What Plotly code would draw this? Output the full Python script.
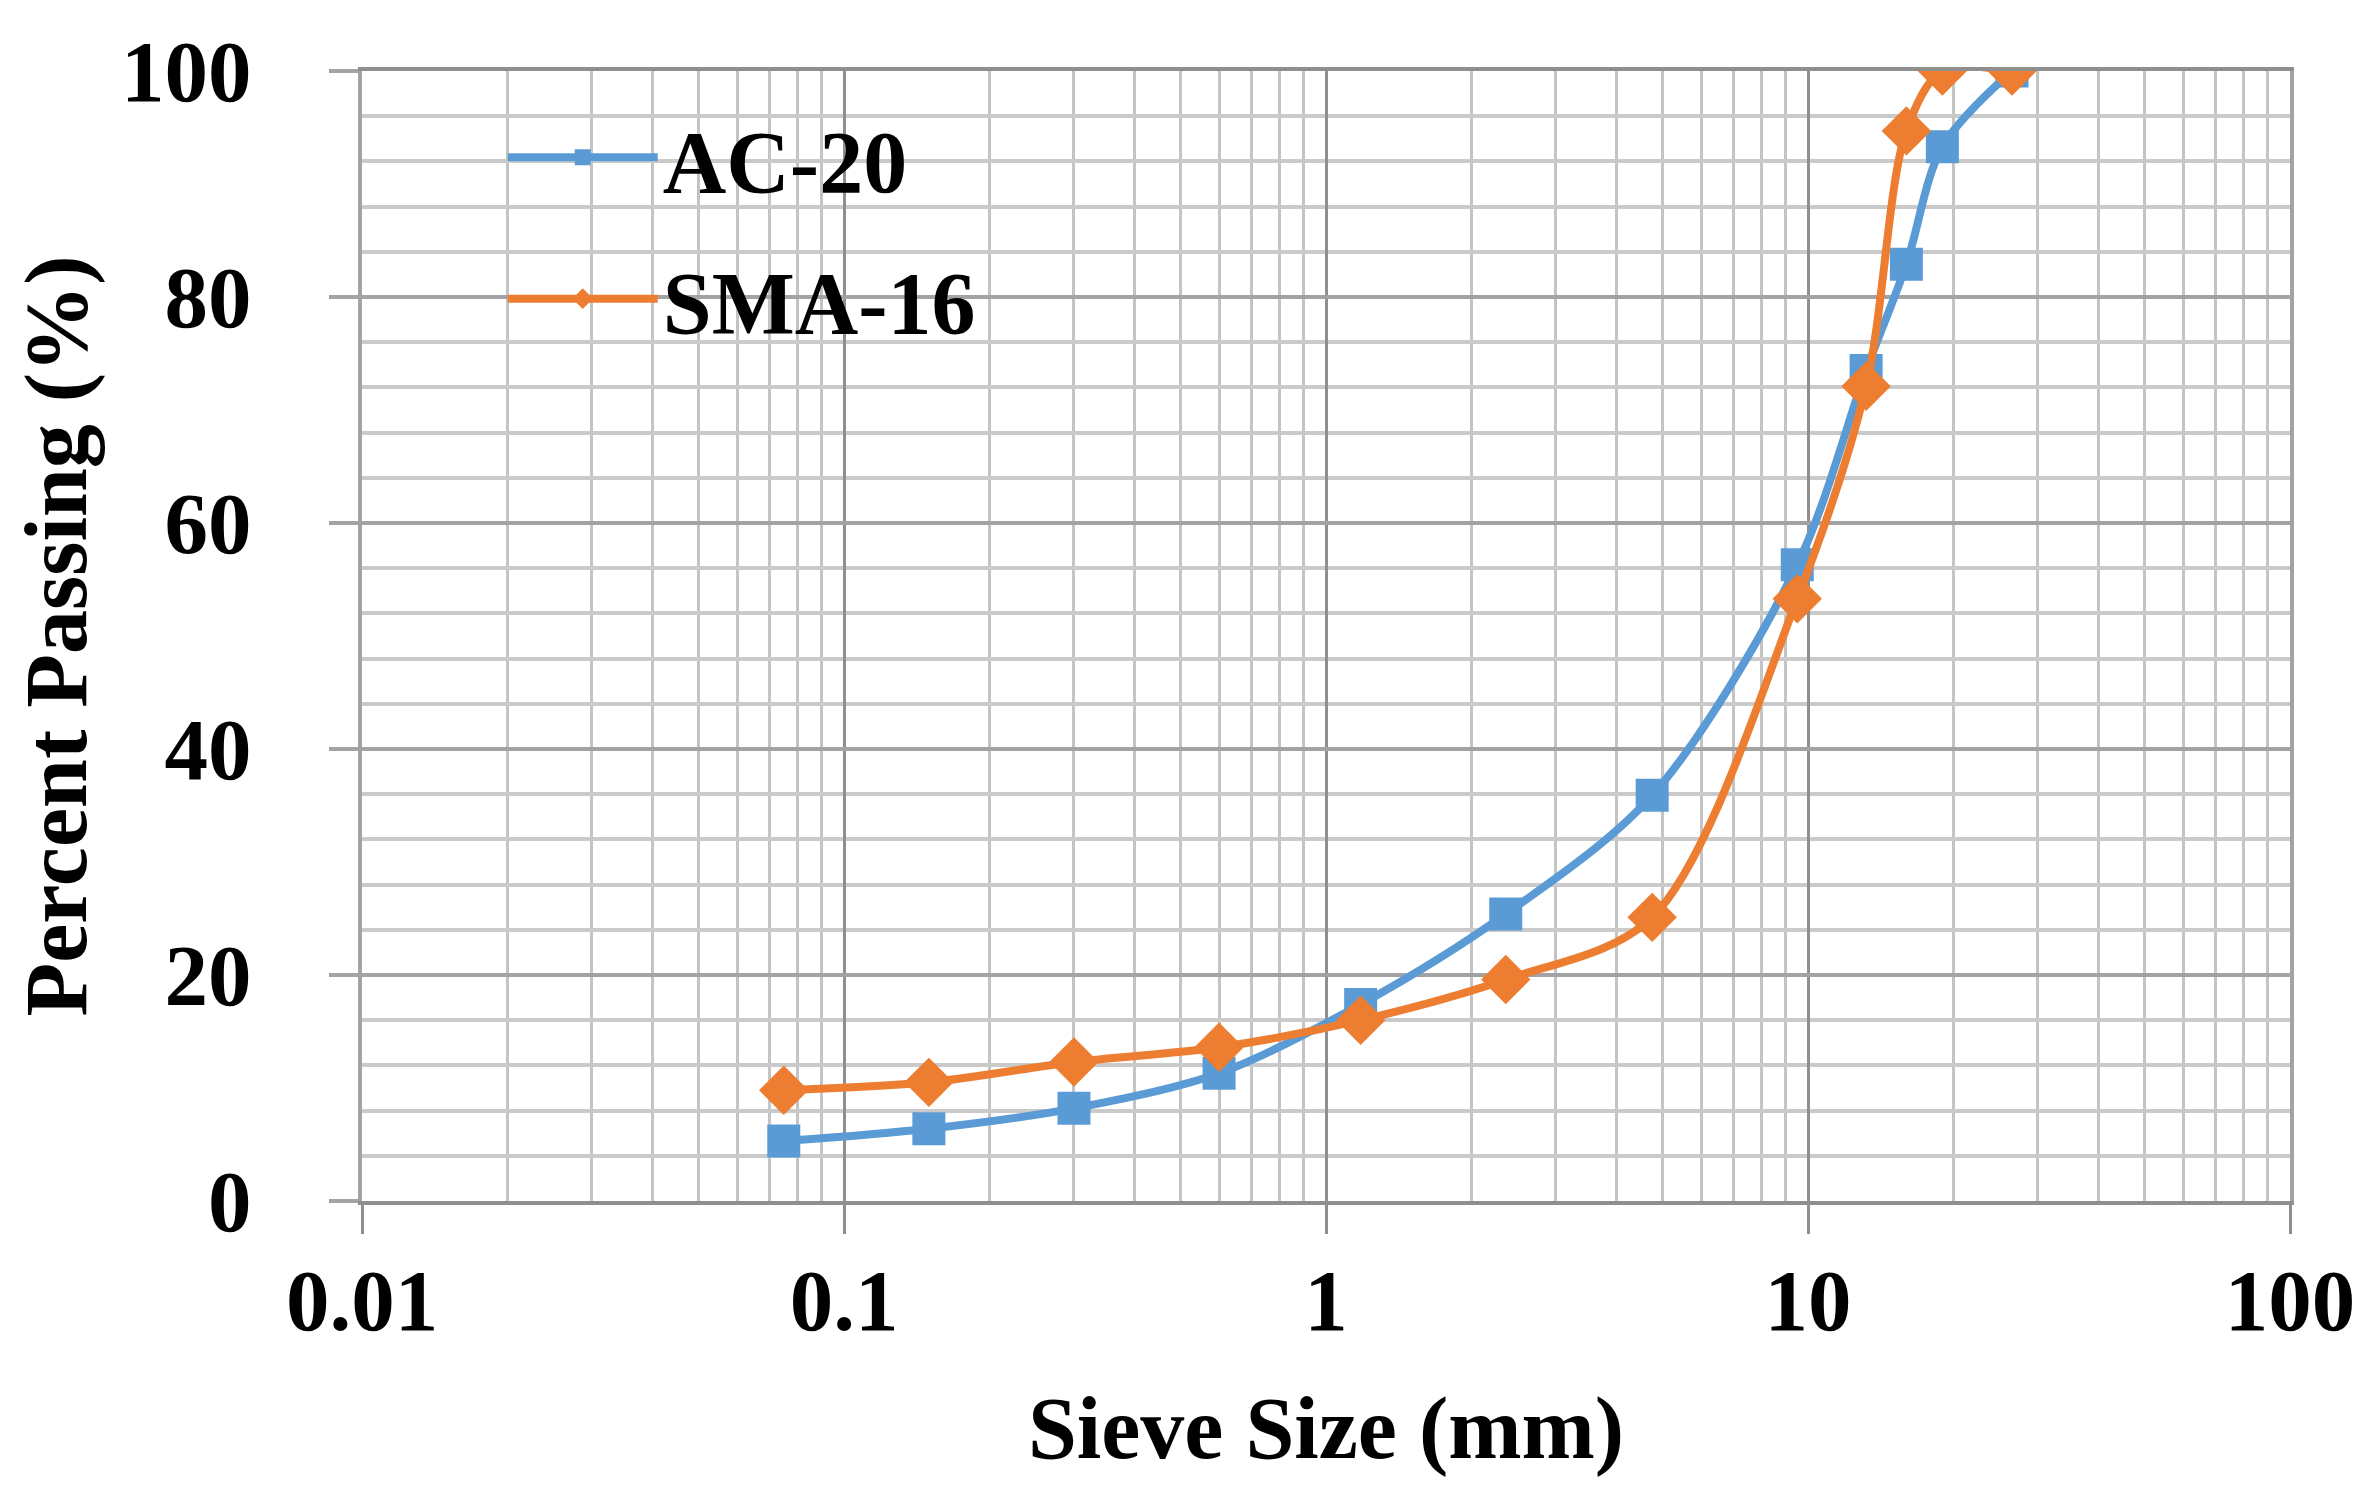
import plotly.graph_objects as go

# sieve sizes (mm) and percent passing
sieve = [0.075, 0.15, 0.3, 0.6, 1.18, 2.36, 4.75, 9.5, 13.2, 16, 19, 26.5]
ac20 = [5.3, 6.4, 8.2, 11.3, 17.4, 25.4, 35.9, 56.3, 73.5, 82.9, 93.3, 100]
sma16 = [9.8, 10.5, 12.3, 13.6, 16.0, 19.6, 25.1, 53.3, 72.1, 94.7, 100, 100]

xticks = [0.01, 0.1, 1, 10, 100]
xticktext = ["0.01", "0.1", "1", "10", "100"]
yticks = [0, 20, 40, 60, 80, 100]

blue = "#5B9BD5"
orange = "#ED7D31"
font_face = "Liberation Serif"

fig = go.Figure()

fig.add_trace(go.Scatter(
    x=sieve, y=ac20, name="AC-20", mode="lines+markers",
    line=dict(color=blue, width=8, shape="spline", smoothing=0.9),
    marker=dict(symbol="square", size=33, color=blue),
    legendgroup="a",
))
fig.add_trace(go.Scatter(
    x=sieve, y=sma16, name="SMA-16", mode="lines+markers",
    line=dict(color=orange, width=8, shape="spline", smoothing=0.9),
    marker=dict(symbol="diamond", size=38, color=orange),
    legendgroup="b",
))

fig.update_xaxes(
    type="log", range=[-2, 2],
    tickvals=xticks, ticktext=xticktext,
    showgrid=True, gridcolor="#8f8f8f", gridwidth=3,
    minor=dict(dtick="D1", showgrid=True, gridcolor="#c4c4c4", gridwidth=3, ticks=""),
    ticks="outside", ticklen=29, tickwidth=3, tickcolor="#8f8f8f",
    showline=True, linecolor="#8f8f8f", linewidth=4, mirror=True,
    ticklabelstandoff=-8,
    tickfont=dict(family=font_face, size=87, color="black", weight="bold"),
    title=dict(text="Sieve Size (mm)", standoff=49,
               font=dict(family=font_face, size=88, color="black", weight="bold")),
    zeroline=False,
)
fig.update_yaxes(
    range=[0, 100], tickvals=yticks,
    showgrid=True, gridcolor="#a3a3a3", gridwidth=4,
    minor=dict(dtick=4, showgrid=True, gridcolor="#cacaca", gridwidth=4, ticks=""),
    ticks="outside", ticklen=29, tickwidth=4, tickcolor="#a3a3a3",
    showline=True, linecolor="#a3a3a3", linewidth=4, mirror=True,
    ticklabelstandoff=60,
    tickfont=dict(family=font_face, size=87, color="black", weight="bold"),
    title=dict(text="Percent Passing (%)", standoff=20,
               font=dict(family=font_face, size=88, color="black", weight="bold")),
    zeroline=False,
)

fig.update_layout(
    width=2379, height=1488,
    margin=dict(l=354, r=97, t=63, b=295),
    plot_bgcolor="white", paper_bgcolor="white",
    showlegend=True,
    legend=dict(
        x=0.073, y=0.98, xanchor="left", yanchor="top",
        bgcolor="rgba(255,255,255,0)", borderwidth=0,
        tracegroupgap=24, itemwidth=150,
        font=dict(family=font_face, size=88, color="black", weight="bold"),
    ),
)

fig.write_html("out.html")
